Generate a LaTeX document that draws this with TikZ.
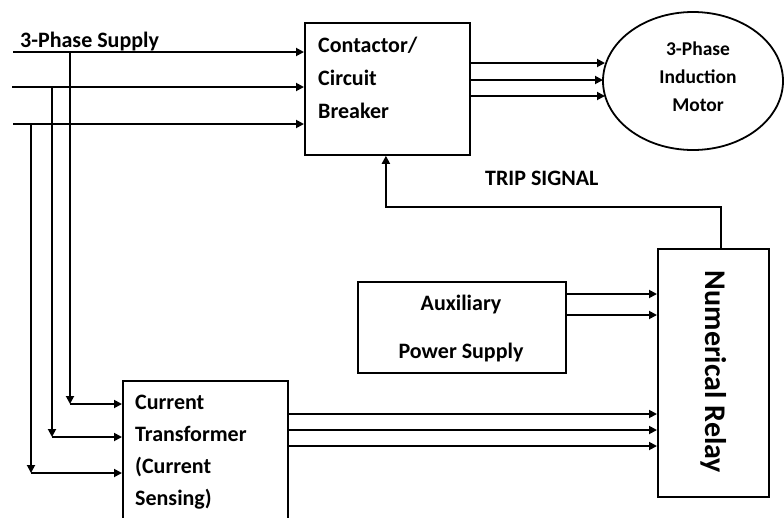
\documentclass[tikz,border=0pt]{standalone}
\usepackage{fontspec}
\setmainfont{Carlito}
\usetikzlibrary{arrows.meta,shapes.geometric,calc}

\begin{document}
\begin{tikzpicture}[x=1pt,y=-1pt,
  wire/.style={line width=1.8pt},
  arr/.style={wire,-{Triangle[length=8pt,width=8pt]}},
  blk/.style={draw,line width=1.8pt,inner sep=0pt,anchor=north west},
  txt/.style={font=\bfseries\fontsize{22}{33}\selectfont,align=left,inner sep=0pt}
]
\fill[white] (0,0) rectangle (784,517);
\useasboundingbox (0,0) rectangle (784,517);
\clip (0,0) rectangle (784,517);

% blocks
\node[blk,minimum width=165pt,minimum height=132pt] (cb) at (304,22) {};
\node[blk,minimum width=208pt,minimum height=91pt] (aux) at (357,281) {};
\node[blk,minimum width=111pt,minimum height=248pt] (relay) at (657,248) {};
\node[blk,minimum width=165pt,minimum height=170pt] (ct) at (122,380) {};
\node[draw,ellipse,line width=1.8pt,minimum width=180pt,minimum height=138pt,inner sep=0pt] (motor) at (693,81) {};

% block texts (the base anchor sits on the last line)
\node[txt,anchor=base west] (cbt) at (318,118) {Contactor/\\Circuit\\Breaker};
\node[txt,align=center,font=\bfseries\fontsize{19.5}{28}\selectfont,anchor=base] (mt) at (698,111) {3-Phase\\Induction\\Motor};
\node[txt,align=center,font=\bfseries\fontsize{22}{48}\selectfont,anchor=base] (auxt) at (461,358) {Auxiliary\\Power Supply};
\node[txt,font=\bfseries\fontsize{22}{32}\selectfont,anchor=base west] (ctt) at (135,505) {Current\\Transformer\\(Current\\Sensing)};
\node[txt,font=\bfseries\fontsize{30}{34}\selectfont,rotate=-90] (rt) at (714,372) {Numerical Relay};
\node[txt,anchor=base west] (supply) at (20,47) {3-Phase Supply};
\node[txt,anchor=base west] (trip) at (485,185) {TRIP SIGNAL};

% three-phase supply lines
\coordinate (s1) at (13,52);
\coordinate (s2) at (12,87);
\coordinate (s3) at (13,124);
\draw[arr] (s1) -- (cb.west |- s1);
\draw[arr] (s2) -- (cb.west |- s2);
\draw[arr] (s3) -- (cb.west |- s3);

% taps down to the current transformer
\coordinate (k1) at (70,404);
\coordinate (k2) at (52,437);
\coordinate (k3) at (31,473);
\draw[arr] (k1 |- s1) -- (k1);
\draw[arr] (k2 |- s2) -- (k2);
\draw[arr] (k3 |- s3) -- (k3);
\draw[arr] (k1) -- (ct.west |- k1);
\draw[arr] (k2) -- (ct.west |- k2);
\draw[arr] (k3) -- (ct.west |- k3);

% breaker to motor
\coordinate (m1) at (605,63);
\coordinate (m2) at (603,80);
\coordinate (m3) at (605,96);
\draw[arr] (cb.east |- m1) -- (m1);
\draw[arr] (cb.east |- m2) -- (m2);
\draw[arr] (cb.east |- m3) -- (m3);

% auxiliary supply to relay
\draw[arr] (aux.east |- 0,294) -- (relay.west |- 0,294);
\draw[arr] (aux.east |- 0,315) -- (relay.west |- 0,315);

% current transformer to relay
\draw[arr] (ct.east |- 0,414) -- (relay.west |- 0,414);
\draw[arr] (ct.east |- 0,430) -- (relay.west |- 0,430);
\draw[arr] (ct.east |- 0,446) -- (relay.west |- 0,446);

% trip signal back to the breaker
\draw[arr] ($(relay.north)+(7.5,0)$) |- ($(cb.south)+(-1.5,51)$) -- ($(cb.south)+(-1.5,0)$);
\end{tikzpicture}
\end{document}
